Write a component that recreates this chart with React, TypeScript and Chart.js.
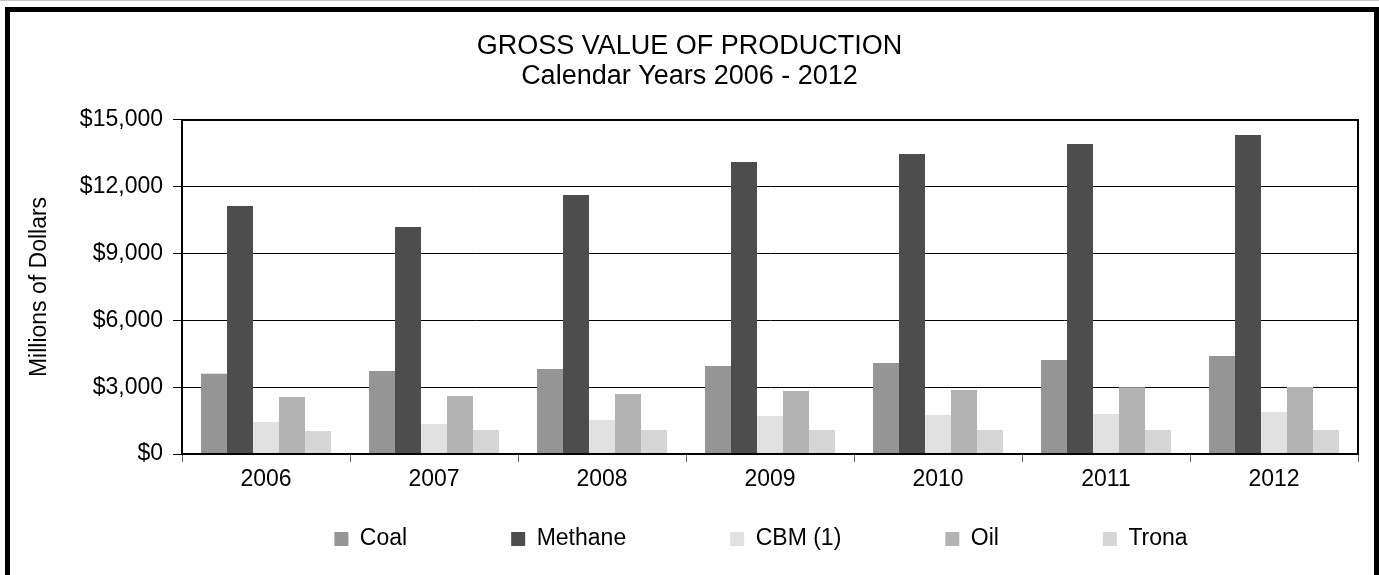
import React, { useEffect, useRef } from 'react';
import { Chart, registerables } from 'chart.js';

Chart.register(...registerables);

const years = ['2006', '2007', '2008', '2009', '2010', '2011', '2012'];
const coal = [3600, 3730, 3820, 3950, 4090, 4220, 4400];
const methane = [11140, 10190, 11630, 13110, 13470, 13920, 14320];
const cbm = [1440, 1350, 1530, 1710, 1750, 1800, 1890];
const oil = [2560, 2600, 2690, 2830, 2870, 3000, 3010];
const trona = [1030, 1080, 1080, 1080, 1080, 1080, 1080];

const seriesNames = ['Coal', 'Methane', 'CBM (1)', 'Oil', 'Trona'];
const seriesValues = [coal, methane, cbm, oil, trona];
const seriesColors = ['#959595', '#4d4d4d', '#e1e1e1', '#b3b3b3', '#d6d6d6'];

const yMin = 0;
const yMax = 15000;
const yStep = 3000;

const titleLines = ['GROSS VALUE OF PRODUCTION', 'Calendar Years 2006 - 2012'];
const yAxisTitle = 'Millions of Dollars';

const FONT = "'Liberation Sans', Arial, Helvetica, sans-serif";
const LEGEND_PAD = 104;
const LEGEND_FONT = 23;
const LEGEND_CENTER_X = 761;
const LEGEND_ITEM_Y = 539;

const plotFrame = {
  id: 'plotFrame',
  afterDatasetsDraw(chart: any) {
    const { ctx, chartArea: a } = chart;
    ctx.save();
    ctx.strokeStyle = '#000';
    ctx.lineWidth = 2;
    ctx.strokeRect(a.left, a.top, a.right - a.left, a.bottom - a.top);
    ctx.restore();
  },
};

const legendPlacer = {
  id: 'legendPlacer',
  afterLayout(chart: any) {
    const lg = chart.legend;
    if (!lg) return;
    const w = lg.right - lg.left;
    lg.left = LEGEND_CENTER_X - w / 2;
    lg.right = lg.left + w;
    lg.top = LEGEND_ITEM_Y - LEGEND_PAD - LEGEND_FONT / 2;
    lg.bottom = chart.height;
  },
};

function App() {
  const canvasRef = useRef<HTMLCanvasElement | null>(null);

  useEffect(() => {
    const canvas = canvasRef.current;
    if (!canvas) return;
    const chart = new Chart(canvas, {
      type: 'bar',
      data: {
        labels: years,
        datasets: seriesNames.map((name, i) => ({
          label: name,
          data: seriesValues[i],
          backgroundColor: seriesColors[i],
          borderWidth: 0,
          barPercentage: 1,
          categoryPercentage: 0.774,
        })),
      },
      options: {
        responsive: false,
        animation: false,
        devicePixelRatio: 1,
        events: [],
        layout: { padding: { top: 0, left: 21, right: 21, bottom: 11 } },
        plugins: {
          tooltip: { enabled: false },
          title: {
            display: true,
            text: titleLines,
            color: '#000',
            font: { family: FONT, size: 27, weight: 'normal', lineHeight: 1.12 },
            padding: { top: 31, bottom: 28.5 },
          },
          legend: {
            display: true,
            position: 'bottom',
            maxHeight: 60,
            labels: {
              boxWidth: 14,
              boxHeight: 14,
              padding: LEGEND_PAD,
              color: '#000',
              font: { family: FONT, size: LEGEND_FONT },
            },
          },
        },
        scales: {
          x: {
            afterFit: (s: any) => {
              s.height = 50;
            },
            grid: {
              display: true,
              drawOnChartArea: false,
              drawTicks: true,
              tickLength: 8,
              tickColor: '#666',
              offset: true,
            },
            border: { display: true, color: '#000', width: 2 },
            ticks: { color: '#000', font: { family: FONT, size: 23 }, padding: 4, maxRotation: 0 },
          },
          y: {
            min: yMin,
            max: yMax,
            afterFit: (s: any) => {
              s.width = 161;
            },
            grid: { color: '#000', lineWidth: 1, tickLength: 9, tickColor: '#000' },
            border: { display: true, color: '#000', width: 2 },
            ticks: {
              stepSize: yStep,
              color: '#000',
              padding: 10,
              font: { family: FONT, size: 23 },
              callback: (v: any) => '$' + Number(v).toLocaleString('en-US'),
            },
            title: {
              display: true,
              text: yAxisTitle,
              color: '#000',
              font: { family: FONT, size: 23 },
              padding: { top: 5, bottom: 0 },
            },
          },
        },
      },
      plugins: [plotFrame, legendPlacer],
    } as any);
    return () => chart.destroy();
  }, []);

  return (
    <div style={{ position: 'absolute', left: 0, top: 0, width: 1379, height: 575, overflow: 'hidden', background: '#fff' }}>
      <div style={{ position: 'absolute', left: 0, top: 0, width: 1379, height: 1, background: '#c8c8c8' }} />
      <div
        style={{
          position: 'absolute',
          left: 5,
          top: 7,
          width: 1374,
          height: 620,
          border: '5px solid #000',
          boxSizing: 'border-box',
        }}
      />
      <canvas
        ref={canvasRef}
        width={1379}
        height={575}
        style={{ position: 'absolute', left: 0, top: 0, width: 1379, height: 575 }}
      />
    </div>
  );
}

export default App;
